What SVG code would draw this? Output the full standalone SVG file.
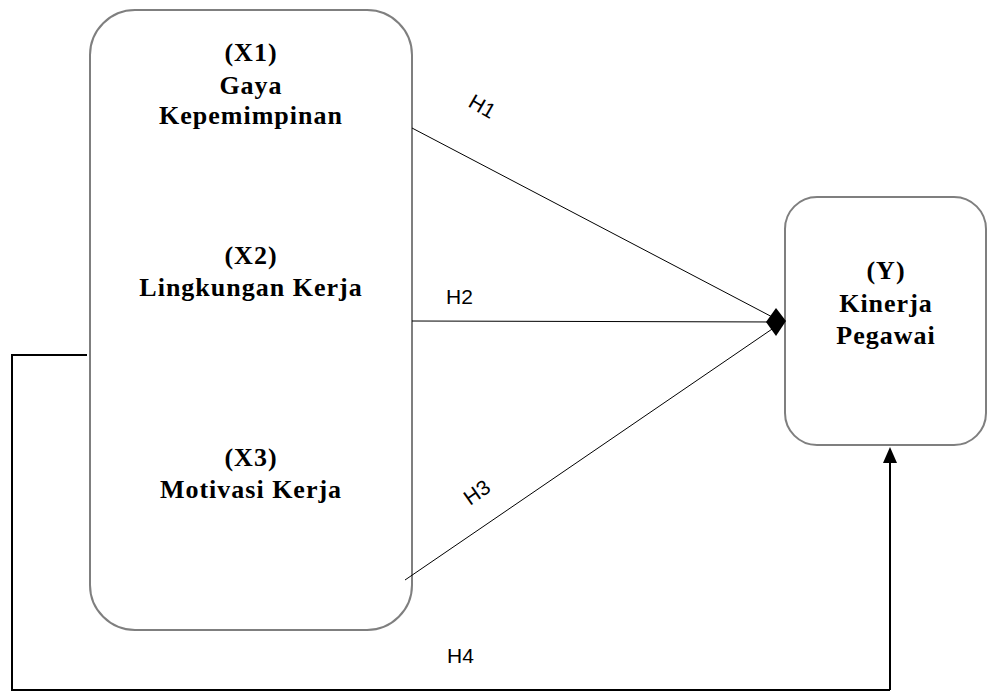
<svg xmlns="http://www.w3.org/2000/svg" width="987" height="692" viewBox="0 0 987 692">
<style>
.box{fill:#fff;stroke:#7f7f7f;stroke-width:2}
.t{font-family:"Liberation Serif","Times New Roman",serif;font-weight:bold;font-size:26px;letter-spacing:1px;fill:#000;text-anchor:middle}
.h{font-family:"Liberation Sans",Arial,sans-serif;font-size:21px;fill:#000}
.ln{stroke:#000;stroke-width:1;fill:none}
.fb{stroke:#000;stroke-width:2;fill:none}
</style>
<rect width="987" height="692" fill="#fff"/>
<g id="X">
<rect class="box" x="90" y="10" width="322" height="620" rx="45"/>
<text class="t" x="251" y="61">(X1)</text>
<text class="t" x="251" y="94">Gaya</text>
<text class="t" x="251" y="124">Kepemimpinan</text>
<text class="t" x="251" y="264">(X2)</text>
<text class="t" x="251" y="296">Lingkungan Kerja</text>
<text class="t" x="251" y="466">(X3)</text>
<text class="t" x="251" y="498">Motivasi Kerja</text>
</g>
<g id="Y">
<rect class="box" x="785" y="197" width="201" height="248" rx="32"/>
<text class="t" x="886" y="279">(Y)</text>
<text class="t" x="886" y="312">Kinerja</text>
<text class="t" x="886" y="344">Pegawai</text>
</g>
<g id="connectors">
<line class="ln" x1="412" y1="128" x2="778" y2="320"/>
<line class="ln" x1="412" y1="321" x2="778" y2="322"/>
<line class="ln" x1="405" y1="580" x2="778" y2="325"/>
<polygon points="776,308 786,321 776,336 766,322" fill="#000"/>
<polyline class="fb" points="87,355 12,355 12,690 890,690"/>
<line class="fb" x1="890" y1="690" x2="890" y2="460"/>
<polygon points="890,447 897,463 883,463" fill="#000"/>
<text class="h" transform="translate(467,106) rotate(30)">H1</text>
<text class="h" x="446" y="304">H2</text>
<text class="h" transform="translate(470,506) rotate(-35)">H3</text>
<text class="h" x="447" y="663">H4</text>
</g>
</svg>
